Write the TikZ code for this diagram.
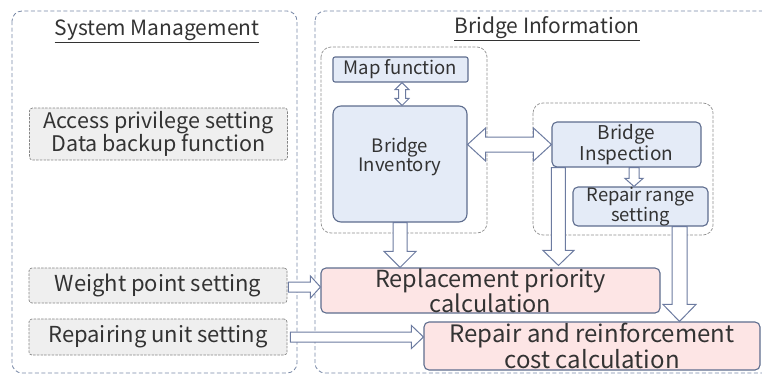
\documentclass[tikz,border=0pt]{standalone}
\usepackage{fontspec}
\setmainfont{Noto Sans CJK JP}
\usetikzlibrary{calc}
\definecolor{txt}{HTML}{333333}
\definecolor{panelc}{HTML}{7888A6}
\definecolor{grpc}{HTML}{8E8E8E}
\definecolor{grayfill}{HTML}{EFEFEF}
\definecolor{grayline}{HTML}{858585}
\definecolor{bluefill}{HTML}{E4EBF7}
\definecolor{blueline}{HTML}{5E6D8E}
\definecolor{pinkfill}{HTML}{FDE5E5}
\definecolor{arrowc}{HTML}{6C7BA0}
\tikzset{
  panel/.style={draw=panelc, dash pattern=on 4pt off 2.5pt, line width=0.8pt, rounded corners=10pt},
  grp/.style={draw=grpc, dash pattern=on 3pt off 1.5pt, line width=0.7pt, rounded corners=10pt},
  graybox/.style={draw=grayline, dash pattern=on 2.5pt off 1.2pt, line width=0.7pt, fill=grayfill, rounded corners=3pt, text=txt, align=center, inner sep=0pt},
  bluebox/.style={draw=blueline, line width=1.1pt, fill=bluefill, rounded corners=5pt, text=txt, align=center, inner sep=0pt},
  pinkbox/.style={draw=blueline, line width=1.1pt, fill=pinkfill, rounded corners=5pt, text=txt, align=center, inner sep=0pt},
  blockarrow/.style={draw=arrowc, fill=white, line width=1pt, line join=miter},
  title/.style={text=txt, inner sep=0pt}
}
\newcommand{\blkdown}[5]{\draw[blockarrow] ($(#1)+(-#3,0)$) -- ($(#2)+(-#3,-#5)$) -- ($(#2)+(-#4,-#5)$) -- (#2) -- ($(#2)+(#4,-#5)$) -- ($(#2)+(#3,-#5)$) -- ($(#1)+(#3,0)$) -- cycle;}
\newcommand{\blkright}[5]{\draw[blockarrow] ($(#1)+(0,-#3)$) -- ($(#2)+(-#5,-#3)$) -- ($(#2)+(-#5,-#4)$) -- (#2) -- ($(#2)+(-#5,#4)$) -- ($(#2)+(-#5,#3)$) -- ($(#1)+(0,#3)$) -- cycle;}
\newcommand{\blkdoubleh}[5]{\draw[blockarrow] (#1) -- ($(#1)+(#5,-#4)$) -- ($(#1)+(#5,-#3)$) -- ($(#2)+(-#5,-#3)$) -- ($(#2)+(-#5,-#4)$) -- (#2) -- ($(#2)+(-#5,#4)$) -- ($(#2)+(-#5,#3)$) -- ($(#1)+(#5,#3)$) -- ($(#1)+(#5,#4)$) -- cycle;}
\newcommand{\blkdoublev}[5]{\draw[blockarrow] (#1) -- ($(#1)+(#4,#5)$) -- ($(#1)+(#3,#5)$) -- ($(#2)+(#3,-#5)$) -- ($(#2)+(#4,-#5)$) -- (#2) -- ($(#2)+(-#4,-#5)$) -- ($(#2)+(-#3,-#5)$) -- ($(#1)+(-#3,#5)$) -- ($(#1)+(-#4,#5)$) -- cycle;}
\begin{document}
\begin{tikzpicture}[x=1pt,y=-1pt]
\useasboundingbox (0,0) rectangle (762,378);
\begin{scope}
\clip (0,0) rectangle (762,378);
% panels
\draw[panel] (12,11) rectangle (297,373);
\draw[panel] (315,11) rectangle (780,373);
\end{scope}
\node[title, font=\fontsize{21}{22}\selectfont] (tsm) at (157,31) {\underline{System Management}};
\node[title, font=\fontsize{21}{22}\selectfont] (tbi) at (547,29) {\underline{Bridge Information}};
% groups
\draw[grp] (321,47) rectangle (487,233);
\draw[grp] (533,103) rectangle (713,235);
% left boxes
\node[graybox, minimum width=258pt, minimum height=52pt, font=\fontsize{21.5}{23}\selectfont] (acc) at (158.5,134) {Access privilege setting\\Data backup function};
\node[graybox, minimum width=258pt, minimum height=35pt, font=\fontsize{22}{22}\selectfont] (wps) at (158,285.5) {Weight point setting};
\node[graybox, minimum width=258pt, minimum height=36pt, font=\fontsize{22}{22}\selectfont] (rus) at (158,337) {Repairing unit setting};
% blue boxes
\node[bluebox, rounded corners=2pt, minimum width=135pt, minimum height=25pt, font=\fontsize{18.5}{18}\selectfont] (map) at (400.5,69.5) {Map function};
\node[bluebox, rounded corners=8pt, minimum width=134pt, minimum height=116pt] (inv) at (400,164) {};
\node[text=txt, align=center, font=\fontsize{18.5}{18}\selectfont, inner sep=0pt] (invt) at (400,157) {Bridge\\Inventory};
\node[bluebox, minimum width=149pt, minimum height=45pt, font=\fontsize{19}{18}\selectfont] (ins) at (626.5,144.5) {Bridge\\Inspection};
\node[bluebox, minimum width=135pt, minimum height=39pt, font=\fontsize{18.4}{17}\selectfont] (rrs) at (640.5,206.5) {Repair range\\setting};
% pink boxes
\node[pinkbox, minimum width=339pt, minimum height=45pt, font=\fontsize{23.5}{18}\selectfont] (rep) at (490.5,290.5) {Replacement priority\\calculation};
\node[pinkbox, minimum width=336pt, minimum height=48pt, font=\fontsize{24}{18.5}\selectfont] (rrc) at (592,346) {Repair and reinforcement\\cost calculation};
% arrow end coordinates
\coordinate (a1s) at ($(map.south)+(1.5,0)$);
\coordinate (a1e) at (a1s |- inv.north);
\coordinate (a2s) at (inv.east |- ins.west);
\coordinate (a3s) at ($(ins.south)+(7.5,0)$);
\coordinate (a3e) at (a3s |- rrs.north);
\coordinate (a4e) at (inv.south |- rep.north);
\coordinate (a5s) at ($(ins.south west)+(7,0)$);
\coordinate (a5e) at ($(a5s |- rep.north)+(0,-2)$);
\coordinate (a6s) at ($(rrs.south)+(39,0)$);
\coordinate (a6e) at (a6s |- rrc.north);
\coordinate (a7s) at ($(wps.east)+(1,1.5)$);
\coordinate (a7e) at (a7s -| rep.west);
\coordinate (a8s) at ($(rus.east)+(3,0)$);
\coordinate (a8e) at (a8s -| rrc.west);
% arrows
\blkdoublev{a1s}{a1e}{3.5}{7}{7}
\blkdoubleh{a2s}{ins.west}{7.5}{16.5}{18}
\blkdown{a3s}{a3e}{5}{9}{8}
\blkdown{inv.south}{a4e}{7}{16}{16}
\blkdown{a5s}{a5e}{7}{15.5}{15}
\blkdown{a6s}{a6e}{7.5}{16.5}{17}
\blkright{a7s}{a7e}{5}{11}{10}
\blkright{a8s}{a8e}{5}{11.5}{12}
\end{tikzpicture}
\end{document}
